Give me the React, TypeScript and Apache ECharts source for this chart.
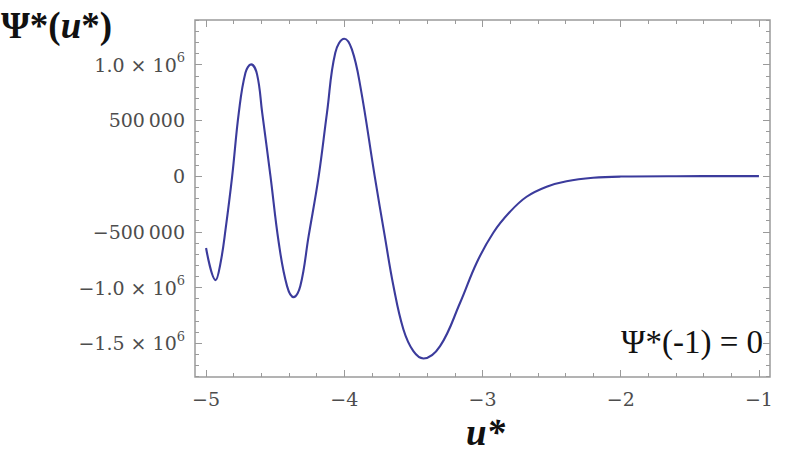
import React, { useEffect, useRef } from "react";
import * as echarts from "echarts";

// Curve samples
const xs = [
  -5.0, -4.931, -4.895, -4.859, -4.811, -4.763, -4.715, -4.674, -4.631, -4.594,
  -4.534, -4.474, -4.414, -4.366, -4.318, -4.258, -4.185, -4.125, -4.065, -4.0,
  -3.945, -3.884, -3.78, -3.707, -3.644, -3.572, -3.5, -3.427, -3.307,
  -3.162, -3.042, -2.922, -2.801, -2.681, -2.536, -2.392, -2.2, -2.0, -1.6, -1.0,
];
const ys = [
  -645000, -933000, -777000, -478000, 0, 569000, 928000, 1003000, 913000, 569000,
  0, -598000, -987000, -1086000, -987000, -539000, 0, 569000, 1108000, 1233000,
  1137000, 808000, 0, -539000, -988000, -1376000, -1571000, -1636000, -1526000,
  -1136000, -777000, -508000, -320000, -185000, -95000, -46000, -15000, -4000, -500, 0,
];

const xMajor = [-5, -4, -3, -2, -1];
const xMinor = [
  -5.0, -4.8, -4.6, -4.4, -4.2, -4.0, -3.8, -3.6, -3.4, -3.2, -3.0,
  -2.8, -2.6, -2.4, -2.2, -2.0, -1.8, -1.6, -1.4, -1.2, -1.0,
];
const xTickLabels = ["\u22125", "\u22124", "\u22123", "\u22122", "\u22121"];

const yMajor = [-1500000, -1000000, -500000, 0, 500000, 1000000];
const yMinor = [
  -1800000, -1700000, -1600000, -1500000, -1400000, -1300000, -1200000, -1100000,
  -1000000, -900000, -800000, -700000, -600000, -500000, -400000, -300000, -200000,
  -100000, 0, 100000, 200000, 300000, 400000, 500000, 600000, 700000, 800000, 900000,
  1000000, 1100000, 1200000, 1300000, 1400000,
];
const yTickLabels = [
  "{n|\u22121.5 \u00d7 10}{s|6}",
  "{n|\u22121.0 \u00d7 10}{s|6}",
  "{n|\u2212500\u2009000}",
  "{n|0}",
  "{n|500\u2009000}",
  "{n|1.0 \u00d7 10}{s|6}",
];

const X_MIN = -5.08;
const X_MAX = -0.92;
const Y_MIN = -1802500;
const Y_MAX = 1401000;

const FRAME = "#9a9a9a";
const LABEL = "#4d4d4d";
const SERIF_NUM = "DejaVu Serif";
const SERIF = "Liberation Serif";

export default function App() {
  const ref = useRef<HTMLDivElement>(null);
  useEffect(() => {
    if (!ref.current) return;
    const chart = echarts.init(ref.current, null, { renderer: "svg" });

    const tickAxis = (
      kind: "x" | "y",
      position: string,
      values: number[],
      len: number,
      labels: boolean
    ): any => {
      const isX = kind === "x";
      const majors = isX ? xMajor : yMajor;
      return {
        type: "value",
        gridIndex: 0,
        position,
        min: isX ? X_MIN : Y_MIN,
        max: isX ? X_MAX : Y_MAX,
        axisLine: { show: false, onZero: false },
        splitLine: { show: false },
        axisTick: {
          show: true,
          inside: true,
          length: len,
          customValues: values,
          lineStyle: { color: FRAME, width: 1 },
        },
        axisLabel: labels
          ? {
              show: true,
              customValues: majors,
              margin: isX ? 12 : 10,
              formatter: (v: number) => {
                const i = majors.findIndex((m) => Math.abs(m - v) < 1e-6 * Math.max(1, Math.abs(m)));
                if (i < 0) return "";
                return isX ? "{n|" + xTickLabels[i] + "}" : yTickLabels[i];
              },
              rich: {
                n: { fontFamily: SERIF_NUM, fontSize: 19, color: LABEL },
                s: { fontFamily: SERIF_NUM, fontSize: 13, color: LABEL, padding: [0, 0, 14, 0] },
              },
            }
          : { show: false },
      };
    };

    const option: any = {
      animation: false,
      backgroundColor: "#ffffff",
      grid: {
        left: 195,
        top: 20,
        width: 575,
        height: 357,
        show: true,
        borderColor: FRAME,
        borderWidth: 1.5,
        backgroundColor: "transparent",
      },
      xAxis: [
        tickAxis("x", "bottom", xMajor, 7, true),
        tickAxis("x", "bottom", xMinor, 4, false),
        tickAxis("x", "top", xMajor, 7, false),
        tickAxis("x", "top", xMinor, 4, false),
      ],
      yAxis: [
        tickAxis("y", "left", yMajor, 7, true),
        tickAxis("y", "left", yMinor, 4, false),
        tickAxis("y", "right", yMajor, 7, false),
        tickAxis("y", "right", yMinor, 4, false),
      ],
      series: [
        {
          type: "line",
          xAxisIndex: 0,
          yAxisIndex: 0,
          data: xs.map((x, i) => [x, ys[i]]),
          showSymbol: false,
          smooth: 0.4,
          lineStyle: { color: "#3b3b9c", width: 2.1 },
          clip: true,
        },
      ],
      graphic: [
        {
          type: "text",
          left: 1,
          top: 7,
          style: {
            text: "{b|\u03a8*(}{i|u}{b|*)}",
            rich: {
              b: { fontFamily: SERIF, fontSize: 37, fontWeight: "bold", fill: "#111" },
              i: { fontFamily: SERIF, fontSize: 37, fontWeight: "bold", fontStyle: "italic", fill: "#111" },
            },
          },
        },
        {
          type: "text",
          left: 466,
          top: 414,
          style: {
            text: "u*",
            fontFamily: SERIF,
            fontSize: 37,
            fontWeight: "bold",
            fontStyle: "italic",
            fill: "#111",
          },
        },
        {
          type: "text",
          right: 26,
          top: 325,
          style: {
            text: "\u03a8*(-1) = 0",
            fontFamily: SERIF,
            fontSize: 33,
            fill: "#111",
          },
        },
      ],
    };
    chart.setOption(option);
    return () => chart.dispose();
  }, []);
  return (
    <div
      ref={ref}
      style={{ position: "fixed", left: 0, top: 0, width: 789, height: 457 }}
    />
  );
}
